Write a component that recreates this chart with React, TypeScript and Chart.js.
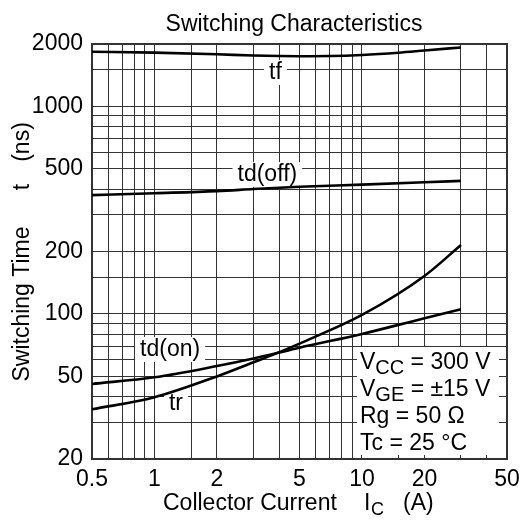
import React, { useEffect, useRef } from 'react';
import { Chart, registerables } from 'chart.js';

Chart.register(...registerables);

// ---- data ----
const currentA = [0.5, 1, 2, 3, 4, 5, 10, 20, 30];
const tfCurrentA = [0.5, 1, 2, 3, 4, 5, 7, 10, 15, 20, 30];
const tfNs = [1836, 1818, 1785, 1760, 1750, 1747, 1750, 1770, 1815, 1860, 1925];
const tdOffNs = [374, 382, 391, 400, 406, 410, 420, 431, 438];
const tdOnNs = [46.0, 49.5, 56.1, 61.0, 65.2, 68.8, 80.1, 95.4, 105.3];
const trNs = [34.7, 39.7, 50.0, 58.5, 65.5, 72.0, 98.9, 152.4, 214.9];

const xTickLabels = [0.5, 1, 2, 5, 10, 20, 50];
const yTickLabels = [20, 50, 100, 200, 500, 1000, 2000];

const curveLabels = ['tf', 'td(off)', 'td(on)', 'tr'];
const curveLabelX = [3.83, 3.5, 1.19, 1.27];
const curveLabelY = [1466, 472, 67.8, 37.2];

const conditionLines: [string, boolean][][] = [
  [['V', false], ['CC', true], [' = 300 V', false]],
  [['V', false], ['GE', true], [' = \u00b115 V', false]],
  [['Rg = 50 \u03a9', false]],
  [['Tc = 25 \u00b0C', false]],
];

const titleText = 'Switching Characteristics';
const FONT = '"Liberation Sans", Arial, Helvetica, sans-serif';

const matches = (list: number[], v: number) => list.some((t) => Math.abs(t - v) / t < 1e-6);

const decorPlugin = {
  id: 'decor',
  beforeDatasetsDraw(chart: any) {
    const { ctx, chartArea: a, scales } = chart;
    const xs = scales.x;
    const ys = scales.y;
    ctx.save();
    // curve labels with white background
    ctx.font = `23px ${FONT}`;
    ctx.textAlign = 'center';
    ctx.textBaseline = 'middle';
    curveLabels.forEach((t, i) => {
      const px = xs.getPixelForValue(curveLabelX[i]);
      const py = ys.getPixelForValue(curveLabelY[i]);
      const w = ctx.measureText(t).width;
      ctx.fillStyle = '#fff';
      ctx.fillRect(px - w / 2 - 5, py - 12, w + 10, 25);
      ctx.fillStyle = '#000';
      ctx.fillText(t, px, py + 1);
    });
    // condition box
    const bx = a.right - 150;
    const by = a.bottom - 112;
    ctx.fillStyle = '#fff';
    ctx.fillRect(bx, by, 142, 108);
    ctx.fillStyle = '#000';
    ctx.textAlign = 'left';
    ctx.textBaseline = 'alphabetic';
    conditionLines.forEach((segs, i) => {
      let cx = bx + 3;
      const base = by + 22 + i * 27;
      segs.forEach(([s, sub]) => {
        ctx.font = sub ? `20px ${FONT}` : `23px ${FONT}`;
        ctx.fillText(s, cx, sub ? base + 5 : base);
        cx += ctx.measureText(s).width;
      });
    });
    // frame
    ctx.strokeStyle = '#333';
    ctx.lineWidth = 2;
    ctx.strokeRect(a.left, a.top, a.right - a.left, a.bottom - a.top);
    ctx.restore();
  },
  afterDraw(chart: any) {
    const { ctx, chartArea: a } = chart;
    ctx.save();
    ctx.fillStyle = '#000';
    // title
    ctx.font = `23px ${FONT}`;
    ctx.textAlign = 'center';
    ctx.textBaseline = 'alphabetic';
    ctx.fillText(titleText, a.left + 202, 31);
    // x axis title
    ctx.textAlign = 'left';
    ctx.fillText('Collector Current', a.left + 71, 510);
    ctx.fillText('I', a.left + 272, 510);
    ctx.font = `18px ${FONT}`;
    ctx.fillText('C', a.left + 279, 515);
    ctx.font = `23px ${FONT}`;
    ctx.fillText('(A)', a.left + 311, 510);
    // y axis title
    ctx.translate(23, 0);
    ctx.rotate(-Math.PI / 2);
    ctx.textAlign = 'center';
    ctx.textBaseline = 'middle';
    ctx.fillText('Switching Time', -304, 0);
    ctx.fillText('t', -187, 0);
    ctx.fillText('(ns)', -142, 0);
    ctx.restore();
  },
};

export default function App() {
  const ref = useRef<HTMLCanvasElement | null>(null);
  useEffect(() => {
    if (!ref.current) return;
    const mk = (xsArr: number[], vals: number[]) => xsArr.map((x, i) => ({ x, y: vals[i] }));
    const ds = (label: string, xsArr: number[], vals: number[]) => ({
      label,
      data: mk(xsArr, vals),
      borderColor: '#000',
      borderWidth: 2.6,
      pointRadius: 0,
      fill: false,
      cubicInterpolationMode: 'monotone' as const,
    });
    const chart = new Chart(ref.current, {
      type: 'line',
      data: {
        datasets: [
          ds('tf', tfCurrentA, tfNs),
          ds('td(off)', currentA, tdOffNs),
          ds('td(on)', currentA, tdOnNs),
          ds('tr', currentA, trNs),
        ],
      },
      options: {
        responsive: false,
        animation: false,
        layout: { padding: { left: 0, top: 44, right: 21, bottom: 0 } },
        plugins: { legend: { display: false }, tooltip: { enabled: false }, title: { display: false } },
        scales: {
          x: {
            type: 'logarithmic',
            min: 0.5,
            max: 50,
            grid: { color: '#333', lineWidth: 1, drawTicks: false },
            border: { display: false },
            ticks: {
              autoSkip: false,
              maxRotation: 0,
              padding: 7,
              color: '#000',
              font: { size: 23, family: FONT },
              callback: (v: any) => (matches(xTickLabels, Number(v)) ? String(Number(v)) : ''),
            },
            afterFit: (s: any) => {
              s.height = 64;
            },
          },
          y: {
            type: 'logarithmic',
            min: 20,
            max: 2000,
            grid: { color: '#333', lineWidth: 1, drawTicks: false },
            border: { display: false },
            ticks: {
              autoSkip: false,
              padding: 9,
              color: '#000',
              font: { size: 23, family: FONT },
              callback: (v: any) => (matches(yTickLabels, Number(v)) ? String(Number(v)) : ''),
            },
            afterFit: (s: any) => {
              s.width = 92;
            },
          },
        },
      },
      plugins: [decorPlugin],
    });
    return () => chart.destroy();
  }, []);
  return (
    <div style={{ position: 'fixed', left: 0, top: 0, width: 528, height: 523, background: '#fff' }}>
      <canvas ref={ref} width={528} height={523} style={{ display: 'block' }} />
    </div>
  );
}
